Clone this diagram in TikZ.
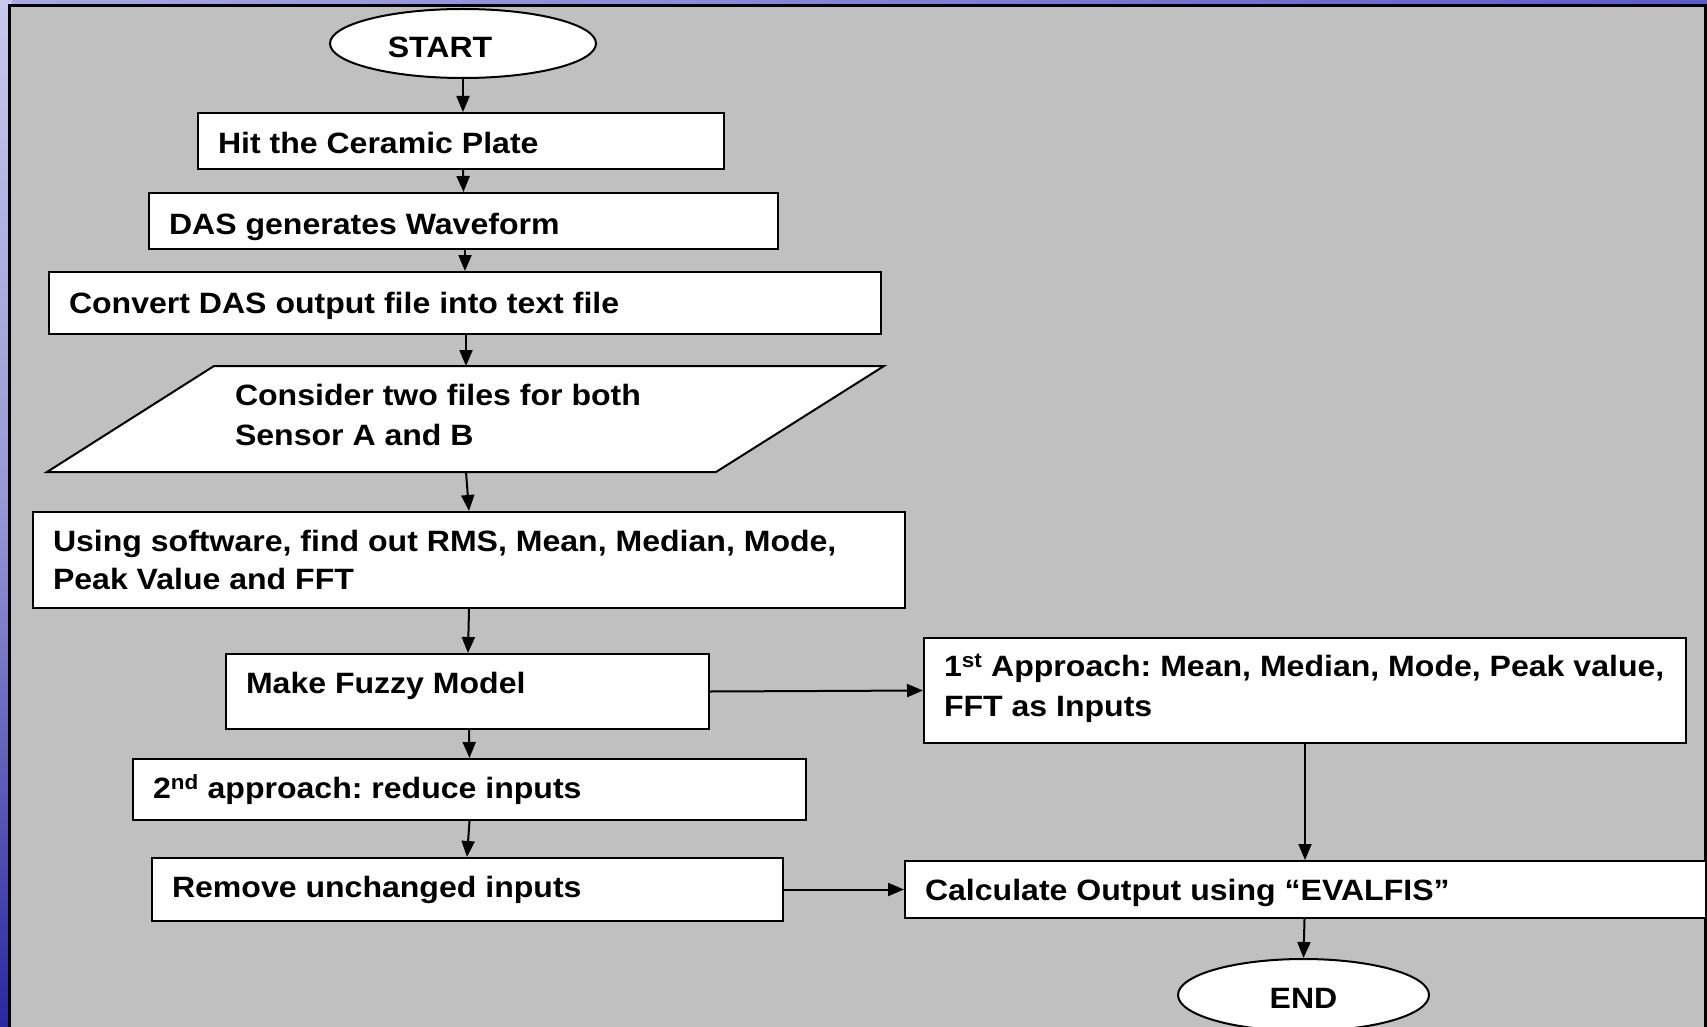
\documentclass[tikz,border=0pt]{standalone}
\usepackage{fontspec}
\setmainfont{Liberation Sans}[FakeStretch=1.09]
\usetikzlibrary{arrows.meta,shapes.geometric,backgrounds}
\definecolor{panelgray}{RGB}{192,192,192}
\definecolor{bandleft}{RGB}{170,170,225}
\definecolor{bandright}{RGB}{92,92,200}
\definecolor{striptop}{RGB}{200,200,236}
\definecolor{stripmid}{RGB}{150,150,212}
\definecolor{stripbot}{RGB}{40,40,160}
% text block of a process box: first-baseline depth, width, height, lines
\newcommand\fbtext[4][41pt]{\parbox[c][#3][t]{#2}{\raggedright\frenchspacing\rule{0pt}{#1}#4}}
\begin{document}
\begin{tikzpicture}[x=1pt,y=-1pt,
  txt/.style={font=\fontsize{29.4}{37}\selectfont\bfseries},
  box/.style={txt,draw=black,line width=2pt,fill=white,inner xsep=20pt,inner ysep=0pt},
  term/.style={txt,draw=black,line width=2pt,fill=white,ellipse,inner sep=0pt},
  arr/.style={line width=2pt,-{Triangle[length=16pt,width=13pt]}}]
\useasboundingbox (0,0) rectangle (1707,1027);

% terminals and process boxes
\node[term,minimum width=266pt,minimum height=69pt] (start) at (463,43.5)
  {\raisebox{-14pt}[0pt][0pt]{\hspace*{-46pt}START}};
\node[box] (hit) at (461,141) {\fbtext{486pt}{56pt}{Hit the Ceramic Plate}};
\node[box] (das) at (463.5,221) {\fbtext{589pt}{56pt}{DAS generates Waveform}};
\node[box] (conv) at (465,303) {\fbtext{792pt}{62pt}{Convert DAS output file into text file}};
\node[box,draw=none,fill=none] (para) at (549,419)
  {\fbtext[38.5pt]{628pt}{104pt}{Consider two files for both\\[2.5pt]Sensor A and B}};
\node[box] (using) at (469,560)
  {\fbtext[39.5pt]{832pt}{96pt}{Using software, find out RMS, Mean, Median, Mode,\\[0.5pt]Peak Value and FFT}};
\node[box] (fuzzy) at (467.5,691.5) {\fbtext[39.5pt]{443pt}{75pt}{Make Fuzzy Model}};
\node[box] (first) at (1305,690.5)
  {\fbtext[38.5pt]{722pt}{105pt}{1\textsuperscript{st} Approach: Mean, Median, Mode, Peak value,\\[2.5pt]FFT as Inputs}};
\node[box] (second) at (469.5,789.5) {\fbtext[39.5pt]{633pt}{61pt}{2\textsuperscript{nd} approach: reduce inputs}};
\node[box] (remove) at (467.5,889.5) {\fbtext[39.5pt]{591pt}{63pt}{Remove unchanged inputs}};
\node[box] (calc) at (1305.5,889.5) {\fbtext[39.5pt]{761pt}{57pt}{Calculate Output using “EVALFIS”}};
\node[term,minimum width=251pt,minimum height=72pt] (end) at (1303.5,995)
  {\raisebox{-13pt}[0pt][0pt]{END}};

% background: slide frame, panel and the input parallelogram
\begin{pgfonlayer}{background}
  \shade[left color=bandleft,right color=bandright] (0,0) rectangle (1707,10);
  \shade[top color=striptop,bottom color=stripbot,middle color=stripmid] (0,0) rectangle (12,1027);
  \draw[line width=2.5pt,fill=panelgray] (9.5,5.5) rectangle (1705.5,1040);
  \draw[line width=2pt,fill=white,line join=miter]
    (para.north west) -- (para.north east)
    -- ([xshift=-168pt]para.south east) -- ([xshift=-167pt]para.south west) -- cycle;
\end{pgfonlayer}

% connectors
\draw[arr] (start.south) -- ([xshift=2pt]hit.north);
\draw[arr] ([xshift=2pt]hit.south) -- (das.north);
\draw[arr] ([xshift=1.5pt]das.south) -- (conv.north);
\draw[arr] ([xshift=1pt]conv.south) -- ([xshift=-83pt]para.north);
\draw[arr] ([xshift=-83pt]para.south) -- (using.north);
\draw[arr] (using.south) -- ([xshift=0.5pt]fuzzy.north);
\draw[arr] ([xshift=1.5pt]fuzzy.south) -- (second.north);
\draw[arr] (second.south) -- ([xshift=-0.5pt]remove.north);
\draw[arr] (fuzzy.east) -- (first.west);
\draw[arr] (remove.east) -- (calc.west);
\draw[arr] (first.south) -- ([xshift=-0.5pt]calc.north);
\draw[arr] ([xshift=-1pt]calc.south) -- (end.north);
\end{tikzpicture}
\end{document}
